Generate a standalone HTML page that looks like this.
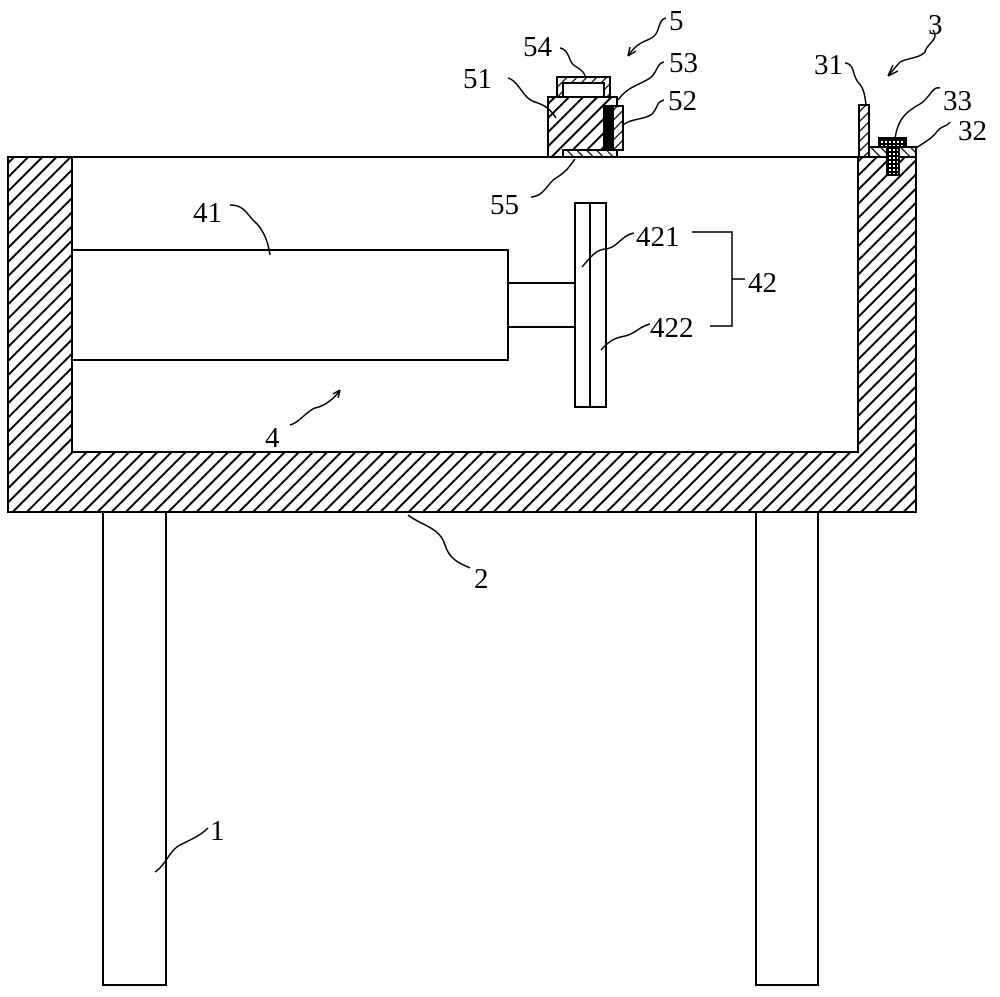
<!DOCTYPE html>
<html><head><meta charset="utf-8"><style>html,body{margin:0;padding:0;background:#fff}svg{display:block}</style></head>
<body>
<svg width="1000" height="997" viewBox="0 0 1000 997" xmlns="http://www.w3.org/2000/svg">
<defs>
<pattern id="h" patternUnits="userSpaceOnUse" width="10" height="10" patternTransform="rotate(45)">
<rect width="10" height="10" fill="#fff"/><line x1="0" y1="0" x2="0" y2="10" stroke="#000" stroke-width="4"/></pattern>
<pattern id="hs" patternUnits="userSpaceOnUse" width="7" height="7" patternTransform="rotate(45)">
<rect width="7" height="7" fill="#fff"/><line x1="0" y1="0" x2="0" y2="7" stroke="#000" stroke-width="2.5"/></pattern>
<pattern id="hr" patternUnits="userSpaceOnUse" width="7" height="7" patternTransform="rotate(-45)">
<rect width="7" height="7" fill="#fff"/><line x1="0" y1="0" x2="0" y2="7" stroke="#000" stroke-width="2.5"/></pattern>
<pattern id="dots" patternUnits="userSpaceOnUse" width="4" height="4">
<rect width="4" height="4" fill="#000"/><rect x="1" y="1" width="2" height="2" fill="#fff"/></pattern>
</defs>
<g stroke="#000" stroke-width="2" fill="none">
<path d="M8,157 H72 V452 H858 V157 H916 V512 H8 Z" fill="url(#h)"/>
<line x1="72" y1="157" x2="858" y2="157"/>
<rect x="103" y="512" width="63" height="473" fill="#fff"/>
<rect x="756" y="512" width="62" height="473" fill="#fff"/>
<rect x="72" y="250" width="436" height="110" fill="#fff"/>
<line x1="508" y1="283" x2="575" y2="283"/>
<line x1="508" y1="327" x2="575" y2="327"/>
<rect x="575" y="203" width="31" height="204" fill="#fff"/>
<line x1="590" y1="203" x2="590" y2="407"/>
<rect x="557" y="77" width="53" height="20" fill="url(#hs)"/>
<rect x="563" y="83" width="41" height="14" fill="#fff"/>
<rect x="548" y="97" width="69" height="60" fill="url(#h)"/>
<rect x="563" y="150" width="54" height="7" fill="url(#hr)"/>
<rect x="613" y="106" width="10" height="44" fill="url(#hs)"/>
<rect x="604" y="106" width="9" height="44" fill="#000"/>
<rect x="859" y="105" width="10" height="52" fill="url(#hs)"/>
<rect x="869" y="147" width="47" height="10" fill="url(#hr)"/>
<rect x="879" y="138" width="27" height="9" fill="url(#dots)"/>
<rect x="887" y="147" width="12" height="28" fill="url(#dots)"/>
</g>
<g stroke="#000" stroke-width="1.5" fill="none">
<path d="M560,48 C570,50 568,62 575,66 C582,70 585,74 585,77"/>
<path d="M508,78 C520,82 522,98 535,102 C548,106 552,112 556,118"/>
<path d="M666,18 C658,20 660,30 655,35 C650,42 640,38 628,56 M628,56 L630,47 M628,56 L636,51"/>
<path d="M664,62 C656,64 658,72 650,78 C640,85 628,86 618,100"/>
<path d="M664,100 C656,102 658,108 652,114 C645,120 630,118 622,126"/>
<path d="M531,197 C545,196 548,182 556,178 C566,172 570,166 575,159"/>
<path d="M845,63 C855,64 852,75 858,82 C864,88 865,96 866,105"/>
<path d="M933,30 C940,40 926,44 925,52 C920,58 908,58 900,62"/>
<path d="M900,62 L888,76 M888,76 L893,65 M888,76 L898,71"/>
<path d="M940,88 C932,86 930,98 920,104 C905,112 898,120 895,138"/>
<path d="M950,122 C946,128 942,124 935,134 C930,140 920,145 916,148"/>
<path d="M230,205 C245,205 247,215 255,222 C262,228 268,240 270,255"/>
<path d="M582,267 C590,258 595,250 605,249 C618,248 620,236 634,233"/>
<path d="M601,350 C610,340 615,338 625,336 C635,334 640,326 650,324"/>
<path d="M692,232 H732 V326 H710 M732,279 H745"/>
<path d="M290,425 C300,422 308,410 315,408 C325,406 335,398 340,390 M340,390 L333,394 M340,390 L338,398"/>
<path d="M408,515 C420,525 440,527 445,545 C450,562 465,565 470,568"/>
<path d="M155,872 C165,866 170,850 180,845 C190,840 200,836 208,828"/>
</g>
<g font-family="'Liberation Serif',serif" font-size="29" fill="#000">
<text x="523" y="56">54</text>
<text x="669" y="30">5</text>
<text x="669" y="72">53</text>
<text x="668" y="110">52</text>
<text x="463" y="88">51</text>
<text x="490" y="214">55</text>
<text x="814" y="74">31</text>
<text x="928" y="34">3</text>
<text x="943" y="110">33</text>
<text x="958" y="140">32</text>
<text x="193" y="222">41</text>
<text x="636" y="246">421</text>
<text x="650" y="337">422</text>
<text x="748" y="292">42</text>
<text x="265" y="447">4</text>
<text x="474" y="588">2</text>
<text x="210" y="840">1</text>
</g>
</svg>
</body></html>
